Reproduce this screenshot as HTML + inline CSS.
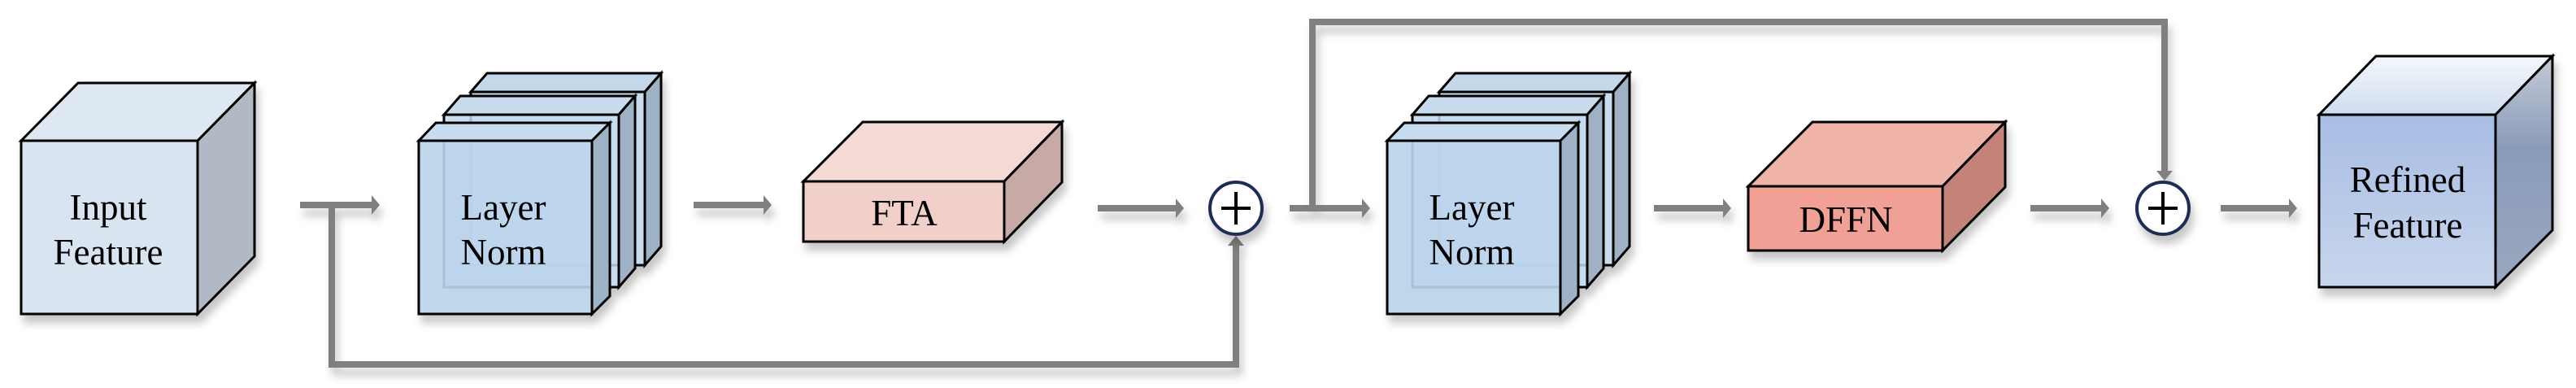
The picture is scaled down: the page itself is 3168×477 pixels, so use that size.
<!DOCTYPE html>
<html><head><meta charset="utf-8"><style>
html,body{margin:0;padding:0;background:#fff}
svg{display:block}
</style></head><body>
<svg width="3168" height="477" viewBox="0 0 3168 477" xmlns="http://www.w3.org/2000/svg">
<defs>
<filter id="sh" x="-10%" y="-10%" width="130%" height="140%">
<feDropShadow dx="4" dy="10" stdDeviation="5" flood-color="#000" flood-opacity="0.22"/>
</filter>
<linearGradient id="rfTop" x1="0" y1="0" x2="0" y2="1"><stop offset="0" stop-color="#f4f7fc"/><stop offset="1" stop-color="#cfdcf0"/></linearGradient>
<linearGradient id="rfFront" x1="0" y1="0" x2="0" y2="1"><stop offset="0" stop-color="#a8bde4"/><stop offset="1" stop-color="#c8d6ec"/></linearGradient>
<linearGradient id="rfSide" x1="0" y1="0" x2="0" y2="1"><stop offset="0" stop-color="#c3cad6"/><stop offset="0.4" stop-color="#8a9bb9"/><stop offset="1" stop-color="#9aa8c0"/></linearGradient>
</defs>
<g stroke="#000" stroke-width="3" stroke-linejoin="miter">
<g filter="url(#sh)">
<polygon points="26,173 96,102 313,102 243,173" fill="#dde8f2"/>
<polygon points="243,173 313,102 313,315 243,386" fill="#b0b9c4"/>
<rect x="26" y="173" width="217" height="213" fill="#d8e4f0"/>
</g>
<g filter="url(#sh)">
<polygon points="579,113 599,90 813,90 793,113" fill="#c5d8ea"/>
<polygon points="793,113 813,90 813,303 793,326" fill="#9eb1c5"/>
<rect x="579" y="113" width="214" height="213" fill="#c8dcee"/>
<polygon points="546,141 566,118 781,118 761,141" fill="#c8dcee"/>
<polygon points="761,141 781,118 781,330 761,353" fill="#9eb1c5"/>
<rect x="546" y="141" width="215" height="212" fill="#c4daef" fill-opacity="0.85"/>
<polygon points="515,173 536,151 750,151 728,173" fill="#c8dcef"/>
<polygon points="728,173 750,151 750,364 728,386" fill="#9fb3c7"/>
<rect x="515" y="173" width="213" height="213" fill="#bcd5ec" fill-opacity="0.9"/>
</g>
<g filter="url(#sh)">
<polygon points="988,223 1061,150 1306,150 1235,223" fill="#f4d9d5"/>
<polygon points="1235,223 1306,150 1306,224 1235,297" fill="#c7a9a6"/>
<rect x="988" y="223" width="247" height="74" fill="#f2d0ca"/>
</g>
<g filter="url(#sh)">
<polygon points="1770,113 1790,90 2004,90 1984,113" fill="#c5d8ea"/>
<polygon points="1984,113 2004,90 2004,303 1984,326" fill="#9eb1c5"/>
<rect x="1770" y="113" width="214" height="213" fill="#c8dcee"/>
<polygon points="1737,141 1757,118 1972,118 1952,141" fill="#c8dcee"/>
<polygon points="1952,141 1972,118 1972,330 1952,353" fill="#9eb1c5"/>
<rect x="1737" y="141" width="215" height="212" fill="#c4daef" fill-opacity="0.85"/>
<polygon points="1706,173 1727,151 1941,151 1919,173" fill="#c8dcef"/>
<polygon points="1919,173 1941,151 1941,364 1919,386" fill="#9fb3c7"/>
<rect x="1706" y="173" width="213" height="213" fill="#bcd5ec" fill-opacity="0.9"/>
</g>
<g filter="url(#sh)">
<polygon points="2150,229 2229,150 2466,150 2389,229" fill="#f0b3a8"/>
<polygon points="2389,229 2466,150 2466,230 2389,308" fill="#c38379"/>
<rect x="2150" y="229" width="239" height="79" fill="#f0a094"/>
</g>
<g filter="url(#sh)">
<polygon points="2852,141 2922,69 3139,69 3069,141" fill="url(#rfTop)"/>
<polygon points="3069,141 3139,69 3139,283 3069,353" fill="url(#rfSide)"/>
<rect x="2852" y="141" width="217" height="212" fill="url(#rfFront)"/>
</g>
</g>
<g filter="url(#sh)" fill="#808080">
<g stroke="#808080" stroke-width="8" fill="none">
<polyline points="369,252 459,252"/>
<polyline points="408,252 408,448 1520,448 1520,300"/>
<polyline points="853,252 941,252"/>
<polyline points="1350,256 1448,256"/>
<polyline points="1586,256 1677,256"/>
<polyline points="1614,256 1614,27 2662,27 2662,212"/>
<polyline points="2034,256 2121,256"/>
<polyline points="2497,256 2586,256"/>
<polyline points="2731,256 2817,256"/>
</g>
<polygon points="457,240 467,252 457,264"/>
<polygon points="939,240 949,252 939,264"/>
<polygon points="1446,244 1456,256 1446,268"/>
<polygon points="1675,244 1685,256 1675,268"/>
<polygon points="2119,244 2129,256 2119,268"/>
<polygon points="2584,244 2594,256 2584,268"/>
<polygon points="2815,244 2825,256 2815,268"/>
<polygon points="1510,302 1520,290 1530,302"/>
<polygon points="2652,210 2662,222 2672,210"/>
</g>
<g filter="url(#sh)">
<circle cx="1520" cy="256" r="32" fill="#fff" stroke="#1c2e55" stroke-width="4"/>
<circle cx="2660" cy="256" r="32" fill="#fff" stroke="#1c2e55" stroke-width="4"/>
</g>
<g stroke="#000" stroke-width="4">
<line x1="1502" y1="256" x2="1538" y2="256"/><line x1="1520" y1="236" x2="1520" y2="276"/>
<line x1="2642" y1="256" x2="2678" y2="256"/><line x1="2660" y1="236" x2="2660" y2="276"/>
</g>
<g font-family="Liberation Serif, DejaVu Serif, serif" font-size="45" text-anchor="middle" fill="#000">
<text x="133" y="270">Input</text>
<text x="133" y="325">Feature</text>
<text x="619" y="270">Layer</text>
<text x="619" y="325">Norm</text>
<text x="1112" y="277">FTA</text>
<text x="1810" y="270">Layer</text>
<text x="1810" y="325">Norm</text>
<text x="2270" y="285">DFFN</text>
<text x="2961" y="236">Refined</text>
<text x="2961" y="292">Feature</text>
</g>
</svg>
</body></html>
